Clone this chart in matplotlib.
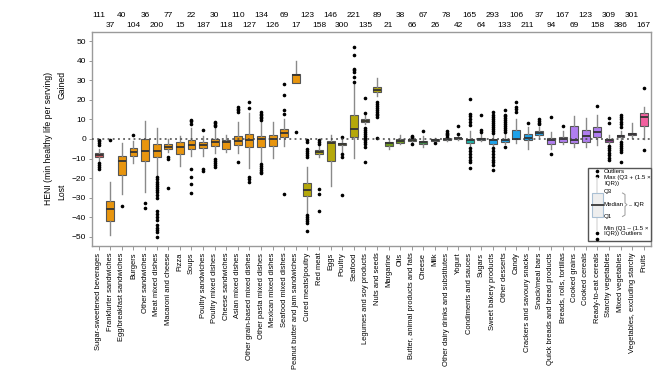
import numpy as np
import matplotlib.pyplot as plt
from matplotlib.patches import Rectangle
from matplotlib.lines import Line2D

plt.rcParams['font.family'] = ['Liberation Sans', 'DejaVu Sans']

categories = [
    "Sugar-sweetened beverages", "Frankfurter sandwiches", "Egg/breakfast sandwiches",
    "Burgers", "Other sandwiches", "Meat mixed dishes", "Macaroni and cheese", "Pizza",
    "Soups", "Poultry sandwiches", "Poultry mixed dishes", "Cheese sandwiches",
    "Asian mixed dishes", "Other grain-based mixed dishes", "Other pasta mixed dishes",
    "Mexican mixed dishes", "Seafood mixed dishes", "Peanut butter and jam sandwiches",
    "Cured meats/poultry", "Red meat", "Eggs", "Poultry", "Seafood",
    "Legumes and soy products", "Nuts and seeds", "Margarine", "Oils",
    "Butter, animal products and fats", "Cheese", "Milk",
    "Other dairy drinks and substitutes", "Yogurt", "Condiments and sauces", "Sugars",
    "Sweet bakery products", "Other desserts", "Candy", "Crackers and savoury snacks",
    "Snack/meal bars", "Quick breads and bread products", "Breads, rolls, tortillas",
    "Cooked grains", "Cooked cereals", "Ready-to-eat cereals", "Starchy vegetables",
    "Mixed vegetables", "Vegetables, excluding starchy", "Fruits",
]

counts = [111, 37, 40, 104, 36, 200, 77, 15, 22, 187, 30, 118, 110, 127, 134, 126,
          69, 17, 123, 158, 146, 300, 221, 135, 89, 21, 38, 66, 67, 26, 78, 42,
          165, 64, 293, 133, 106, 211, 37, 94, 167, 69, 123, 158, 309, 386, 301, 167]

groups = (["bev"] + ["mixed"] * 17 + ["protein"] * 7 + ["fat"] * 3
          + ["dairy1", "dairy2", "dairy3", "dairy4"] + ["cond"] + ["sweet"] * 6
          + ["grain"] * 5 + ["veg1", "veg2", "veg2"] + ["fruit"])

group_colors = {
    "bev": "#d65c60", "mixed": "#e8950e", "protein": "#b5a80a", "fat": "#6e9a1c",
    "dairy1": "#3f8c48", "dairy2": "#2f6e45", "dairy3": "#2b7f55", "dairy4": "#2ea06a",
    "cond": "#1fb3a6", "sweet": "#1ea2ea", "grain": "#b07ef0",
    "veg1": "#8e3f94", "veg2": "#a0479c", "fruit": "#f2609f",
}

whislo = [-11, -49, -28, -12.4, -27.3, -18.4, -6.5, -13.6, -8.5, -8.5, -7, -6.5,
          -7, -14.8, -11.6, -9.9, -3.4, 28.4, -38, -9, -23.8, -6.5, -9.9, 7.5,
          22, -5.3, -2.5, -2, -4, -1.8, -0.9, -0.5, -3.5, -1, -4, -2.5, -2, -5.3,
          1, -5, -2.5, -4, -4, -3, -2.5, -0.5, 0.5, -0.2]
q1 = [-9.3, -41.7, -18.2, -8.9, -11.2, -9.4, -5.3, -7.8, -5.3, -4.4, -3.6, -5.3,
      -3.1, -4.3, -4.3, -3.4, 1.2, 28.4, -29, -7.7, -11.1, -3.2, 1.2, 8.9,
      24.2, -3.4, -1.9, -1.2, -2.6, -1.0, -0.3, -0.2, -2.2, -0.5, -2.7, -1.5, -0.2, -0.5,
      2, -2.6, -1.4, -1.9, -1.5, 0.9, -1.5, 0.9, 1.9, 6.6]
med = [-8.3, -36, -11.1, -6.8, -6.1, -6.1, -3.9, -3.9, -3.2, -2.9, -1.7, -1.7,
       -0.9, -0.5, -0.2, -0.2, 2.9, 32.9, -25.9, -6.8, -1.9, -2.7, 4.9, 9.4,
       25.2, -2.0, -1.0, -0.7, -1.3, -0.6, 0.0, 0.3, -0.5, 0.0, -0.6, -0.3, 0.0, 0.3,
       3.3, -0.5, 0.0, -0.5, 1.5, 3.6, -0.5, 1.5, 2.6, 11.4]
q3 = [-7.2, -31.7, -8.7, -4.8, -0.2, -2.7, -2.7, -1.7, -0.5, -1.4, 0.0, -0.5,
      1.7, 2.7, 1.7, 1.9, 4.9, 33.4, -22.3, -5.8, -0.9, -2.2, 12.1, 10.0,
      26.4, -1.4, 0.0, -0.2, -0.8, -0.2, 0.2, 0.7, -0.2, 0.3, 0.0, 0.2, 4.6, 2.6,
      4.3, 0.3, 0.9, 6.6, 4.8, 6.0, 0.2, 2.0, 3.2, 13.4]
whishi = [-5, -21.8, -1.9, -1, 9.4, 5.5, 0.2, 1.7, 5.8, 1.7, 5.5, 2, 8.5, 13.5,
          9, 8.7, 10, 39.9, -14.1, -3, 2, 0.5, 28.5, 12, 31, 0.1, 2, 0.5, 1.5,
          0.3, 0.8, 1.5, 4, 2.5, 2.5, 2.5, 10, 6, 6, 3.5, 4, 11.8, 10.6, 12, 2,
          4, 8, 16.5]
fliers = [
    [-0.3, -1.2, -2.2, -3.2, -12.5, -13.3, -14.2, -15.2],
    [-0.5],
    [-34],
    [1.9],
    [-32.9, -35.4],
    [-19.5, -20.5, -22, -23, -24, -25, -26, -27, -28.5, -30, -37, -38.5, -40,
     -41.5, -44, -45.5, -46.5, -47.5, -50],
    [-9, -10.2, -24.9],
    [],
    [7.7, 9, 9.9, -15.5, -19.2, -23.2, -27.4],
    [4.4, -15.5, -16.2],
    [6.5, 7.2, 8, 8.8, -10, -11, -12.3, -13.5, -14.5],
    [],
    [14, 14.8, 15.5, 16.2, -11.8],
    [15.8, 18.9, -19.2, -20.5, -22],
    [9.8, 10.5, 11.2, 12, 12.8, 13.6, -12.8, -13.8, -14.8, -15.8, -16.8, -17.5],
    [],
    [12.8, 14.8, 22.3, 28.1, -28.1],
    [3.6],
    [-0.5, -1.5, -5, -6, -7, -8, -9, -38.8, -40, -41, -42, -43, -46.9],
    [-0.5, -1.5, -2.5, -25.6, -28.1, -36.6],
    [],
    [1.2, -7.8, -9, -28.6],
    [29.3, 31.8, 34, 35, 36, 42.9, 46.9],
    [13.1, 20.8, 5.6, 4.5, 3.5, 2.5, 1.5, 0.5, -0.5, -1.5, -2.5, -3.9, -11.9],
    [19, 18, 17, 16, 15, 14, 13, 12, 11.4, 0.7],
    [],
    [],
    [1, 1.6, -2.7],
    [4.1],
    [-2.3],
    [1.2, 1.8, 2.5, 3.2, 4],
    [2.3, 6.4],
    [7, 8.5, 10, 11.5, 13, 20.6, -4.5, -6, -7.5, -9, -10.5, -12, -14.6],
    [3.5, 4.6, 12.3],
    [3, 4, 5, 6, 7, 8, 9, 10, 11, 12, 14, -4.5, -6, -7.5, -9, -10.5, -12, -13.5, -15.8],
    [3.6, 4.5, 5.5, 6.5, 7.5, 8.5, 9.5, 10.5, 11.5, 12.5, 14.6, -4.2],
    [14, 15.2, 16.5, 18.9],
    [8.3],
    [7.5, 8.3, 9.2, 10],
    [11, -7.7],
    [6.5],
    [],
    [],
    [17],
    [8.3, 10.5, -3.4, -4.5, -5.8, -7, -8.3, -9.5, -10.8],
    [6.3, 7.5, 8.7, 10, 11, 12.3, -1.4, -2.5, -3.5, -4.5, -5.5, -6.5, -11.6],
    [],
    [25.9, -5.6],
]

W, H = 668, 376
fig = plt.figure(figsize=(W / 100, H / 100), dpi=100)
ax = fig.add_axes([92.3 / W, 1 - 245.7 / H, (650.7 - 92.3) / W, (245.7 - 31.7) / H])

pos = np.arange(1, len(categories) + 1)
stats = []
for i in range(len(categories)):
    stats.append(dict(whislo=whislo[i], q1=q1[i], med=med[i], q3=q3[i],
                      whishi=whishi[i], fliers=fliers[i]))

bp = ax.bxp(stats, positions=pos, widths=0.68, patch_artist=True, showcaps=False,
            boxprops=dict(edgecolor="#555555", linewidth=0.8),
            medianprops=dict(color="#333333", linewidth=1.3),
            whiskerprops=dict(color="#8a8a8a", linewidth=1.0),
            flierprops=dict(marker="o", markerfacecolor="black", markeredgecolor="black",
                            markersize=1.6, linestyle="none"))
for patch, g in zip(bp["boxes"], groups):
    patch.set_facecolor(group_colors[g])

ax.axhline(0, color="#444444", linestyle=(0, (1.2, 2.2)), linewidth=1.1, zorder=4)

ax.set_xlim(0.45, 48.6)
ax.set_ylim(-54.5, 54.8)
ax.set_yticks(np.arange(-50, 51, 10))
ax.tick_params(axis="y", labelsize=6, length=2.5, width=0.6, color="#888888", pad=2)
ax.set_xticks(pos)
ax.set_xticklabels(categories, rotation=90, fontsize=5.4)
ax.tick_params(axis="x", length=3, width=0.6, color="#888888", pad=2)
for s in ax.spines.values():
    s.set_color("#9a9a9a")
    s.set_linewidth(1.0)

# counts above the panel, alternating rows
xt = ax.get_xaxis_transform()
for i, c in enumerate(counts):
    yy = 1.078 if i % 2 == 0 else 1.027
    ax.text(pos[i], yy, str(c), transform=xt, ha="center", va="center", fontsize=6)

fig.text(49 / W, 1 - 138.5 / H, "HENI (min healthy life per serving)", rotation=90,
         ha="center", va="center", fontsize=6.2)
fig.text(62 / W, 1 - 85 / H, "Gained", rotation=90, ha="center", va="center", fontsize=6.2)
fig.text(62 / W, 1 - 191.5 / H, "Lost", rotation=90, ha="center", va="center", fontsize=6.2)

# key box
def fx(x):
    return x / W

def fy(y):
    return 1 - y / H

tf = fig.transFigure
fig.patches.append(Rectangle((fx(588.3), fy(240.7)), fx(650.7) - fx(588.3),
                             fy(168.3) - fy(240.7), transform=tf, facecolor="white",
                             edgecolor="#555555", linewidth=1.0, zorder=5))
kx = 597
for yy in [171.5, 175.5, 233.5, 238.5]:
    fig.lines.append(Line2D([fx(kx)], [fy(yy)], transform=tf, marker="o", markersize=1.6,
                            color="black", linestyle="none", zorder=6))
fig.lines.append(Line2D([fx(kx), fx(kx)], [fy(178), fy(193)], transform=tf,
                        color="#e2e2e2", linewidth=1.2, zorder=6))
fig.lines.append(Line2D([fx(kx), fx(kx)], [fy(216.5), fy(230)], transform=tf,
                        color="#e2e2e2", linewidth=1.2, zorder=6))
fig.patches.append(Rectangle((fx(591.5), fy(216.5)), fx(602.5) - fx(591.5),
                             fy(193) - fy(216.5), transform=tf, facecolor="#eeeeee",
                             edgecolor="#a9bfd3", linewidth=0.8, zorder=6))
fig.lines.append(Line2D([fx(591.5), fx(602.5)], [fy(204.7), fy(204.7)], transform=tf,
                        color="#444444", linewidth=1.4, zorder=7))
key_texts = [("Outliers", 171.5), ("Max (Q3 + (1.5 \u00d7", 177.8), ("IQR))", 184),
             ("Q3", 191.5), ("Median", 204.5), ("Q1", 216.5),
             ("Min (Q1 \u2013 (1.5 \u00d7", 228), ("IQR)) Outliers", 234)]
for t, yy in key_texts:
    fig.text(fx(604), fy(yy), t, ha="left", va="center", fontsize=4.4, zorder=7)
# brace next to the box
bx = [622.5, 625, 625, 627, 625, 625, 622.5]
by = [193, 194.5, 203, 204.7, 206.4, 215, 216.5]
fig.lines.append(Line2D([fx(v) for v in bx], [fy(v) for v in by], transform=tf,
                        color="#9a9a9a", linewidth=0.7, zorder=7))
fig.lines.append(Line2D([fx(628.5), fx(630.5)], [fy(204.7), fy(204.7)], transform=tf,
                        color="#9a9a9a", linewidth=0.6, zorder=7))
fig.text(fx(633), fy(204.5), "IQR", ha="left", va="center", fontsize=4.4, zorder=7)

fig.savefig("out.png", dpi=100)
